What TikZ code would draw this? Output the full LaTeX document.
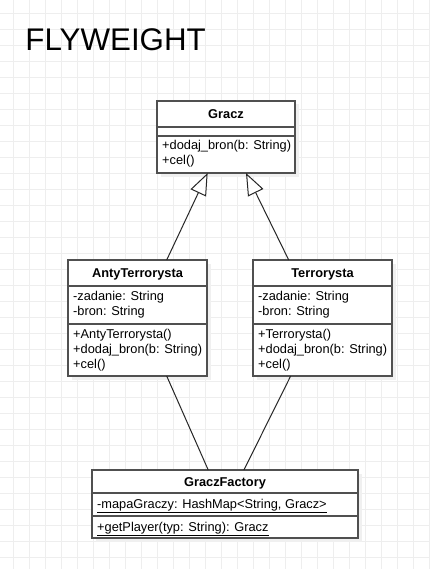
\documentclass[tikz,border=0pt]{standalone}
\usepackage{fontspec}
\setmainfont{Liberation Sans}
\usetikzlibrary{arrows.meta,shadows,calc}
\definecolor{gridc}{RGB}{238,238,238}
\definecolor{boxc}{RGB}{80,80,80}
\definecolor{shadc}{RGB}{240,240,240}
\tikzset{
  classbox/.style={draw=boxc, line width=1.3bp, fill=white, anchor=north west,
    inner sep=0pt, outer sep=0pt,
    general shadow={fill=shadc, shadow xshift=3.5bp, shadow yshift=-3.5bp}},
  sepline/.style={draw=boxc, line width=1.2bp},
  hdr/.style={anchor=base, inner sep=0pt, font=\fontsize{12.8bp}{14.6bp}\selectfont\bfseries},
  mem/.style={anchor=base west, inner sep=0pt, font=\fontsize{12.8bp}{14.6bp}\selectfont},
  inherit/.style={draw=black!85, line width=1bp, -{Triangle[open, length=22bp, width=17bp, fill=white]}},
  assoc/.style={draw=black!85, line width=1bp},
}
\begin{document}
\begin{tikzpicture}[x=1bp,y=-1bp]
\useasboundingbox (0,0) rectangle (429,569);
\fill[white] (0,0) rectangle (429,569);
% grid
\foreach \i in {0,...,26} {\draw[gridc, line width=0.9bp] (13+16*\i,0) -- (13+16*\i,569);}
\foreach \j in {0,...,34} {\draw[gridc, line width=0.9bp] (0,13+16*\j) -- (429,13+16*\j);}
% title
\node[anchor=base west, inner sep=0pt, font=\fontsize{31.3bp}{36bp}\selectfont] (title) at (25.3,50.7) {FLYWEIGHT};
% Gracz
\node[classbox, minimum width=138bp, minimum height=72bp] (g) at (157,101) {};
\draw[sepline] (157,127) -- (295,127);
\draw[sepline] (157,136) -- (295,136);
\node[hdr] (gh) at (226,118.3) {Gracz};
\node[mem] (gm1) at (162,150) {+dodaj\_bron(b: String)};
\node[mem] (gm2) at (162,164.6) {+cel()};
% AntyTerrorysta
\node[classbox, minimum width=139bp, minimum height=116bp] (a) at (68,260) {};
\draw[sepline] (68,286) -- (207,286);
\draw[sepline] (68,324) -- (207,324);
\node[hdr] (ah) at (137.5,277.3) {AntyTerrorysta};
\node[mem] (aa1) at (73,300.7) {-zadanie: String};
\node[mem] (aa2) at (73,315.5) {-bron: String};
\node[mem] (am1) at (73,338.5) {+AntyTerrorysta()};
\node[mem] (am2) at (73,353.5) {+dodaj\_bron(b: String)};
\node[mem] (am3) at (73,368.3) {+cel()};
% Terrorysta
\node[classbox, minimum width=139bp, minimum height=116bp] (t) at (253,260) {};
\draw[sepline] (253,286) -- (392,286);
\draw[sepline] (253,324) -- (392,324);
\node[hdr] (th) at (322.5,277.3) {Terrorysta};
\node[mem] (ta1) at (258,300.7) {-zadanie: String};
\node[mem] (ta2) at (258,315.5) {-bron: String};
\node[mem] (tm1) at (258,338.5) {+Terrorysta()};
\node[mem] (tm2) at (258,353.5) {+dodaj\_bron(b: String)};
\node[mem] (tm3) at (258,368.3) {+cel()};
% GraczFactory
\node[classbox, minimum width=266bp, minimum height=68bp] (f) at (92,470) {};
\draw[sepline] (92,493) -- (358,493);
\draw[sepline] (92,516) -- (358,516);
\node[hdr] (fh) at (225,486.5) {GraczFactory};
\node[mem] (fa1) at (97,508.3) {\underline{-mapaGraczy: HashMap<String, Gracz>}};
\node[mem] (fm1) at (97,531.5) {\underline{+getPlayer(typ: String): Gracz}};
% connectors
\draw[inherit] ($(a.north west)!0.71!(a.north east)$) -- ($(g.south west)!0.367!(g.south east)$);
\draw[inherit] ($(t.north west)!0.257!(t.north east)$) -- ($(g.south west)!0.645!(g.south east)$);
\draw[assoc] ($(a.south west)!0.71!(a.south east)$) -- ($(f.north west)!0.437!(f.north east)$);
\draw[assoc] ($(t.south west)!0.271!(t.south east)$) -- ($(f.north west)!0.571!(f.north east)$);
\end{tikzpicture}
\end{document}
